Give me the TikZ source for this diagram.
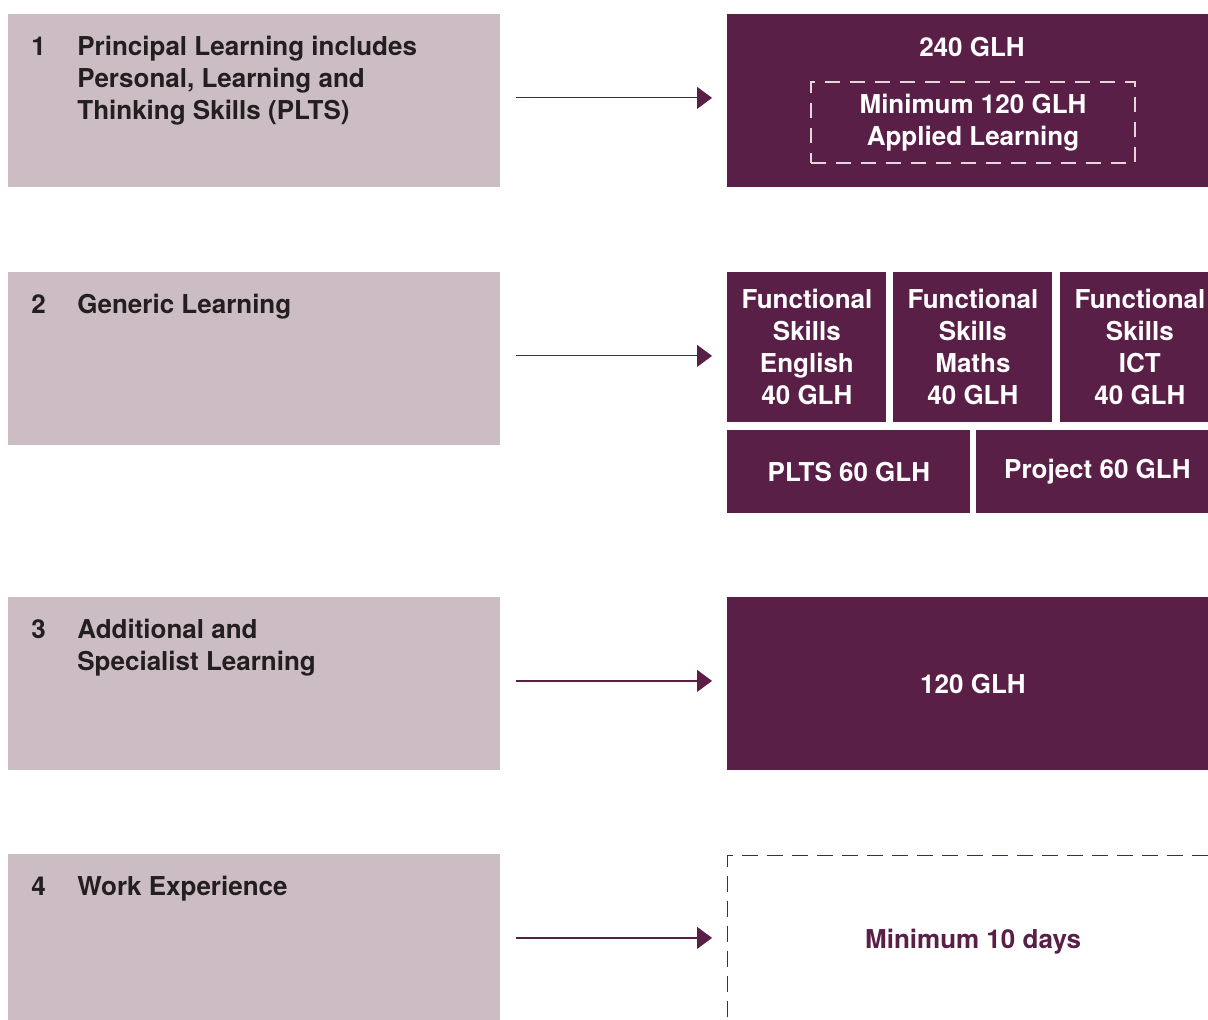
\documentclass[tikz,border=0pt]{standalone}
\usepackage{fontspec}
\setmainfont{TeX Gyre Heros}
\usetikzlibrary{positioning,arrows.meta}
\definecolor{plum}{HTML}{5A1F47}
\definecolor{mauve}{HTML}{CCBDC4}
\definecolor{ink}{HTML}{231F20}
\definecolor{pale}{HTML}{E2D6DC}
\tikzset{
  stagebox/.style={fill=mauve, draw=none, anchor=north west, inner sep=0pt,
    minimum width=246pt, minimum height=86.5pt},
  stagetext/.style={anchor=base west, inner sep=0pt, align=left, text=ink,
    font=\fontsize{13}{16}\selectfont\bfseries},
  hoursbox/.style={fill=plum, draw=none, anchor=north west, inner sep=0pt,
    align=center, text=white, font=\fontsize{13}{16}\selectfont\bfseries},
  fsbox/.style={minimum width=79.5pt, minimum height=75pt},
  dashframe/.style={draw=pale, line width=0.6pt, dash pattern=on 7.5pt off 5pt,
    inner sep=0pt, align=center, text=white, font=\fontsize{13}{16}\selectfont\bfseries},
  link/.style={draw=plum, line width=0.6pt, -{Triangle[length=7.5pt,width=11pt]},
    shorten <=7.5pt, shorten >=7.5pt}
}
\begin{document}
\begin{tikzpicture}[x=0.5pt,y=-0.5pt]
\clip (0,0) rectangle (1208,1020);
% left column: the four stages (base of a node = its last line)
\foreach \n/\top/\lines/\txt in {1/14/3/{Principal Learning includes\\Personal, Learning and\\Thinking Skills (PLTS)},
  2/272/1/{Generic Learning}, 3/597/2/{Additional and\\Specialist Learning}, 4/854/1/{Work Experience}} {
  \node[stagebox] (stage\n) at (8,\top) {};
  \node[stagetext] (num\n) at (31,\top+41.5) {\n};
  \node[stagetext] (txt\n) at (77,\top+41.5+32*\lines-32) {\txt};
}
% right column
\node[hoursbox, minimum width=245.5pt, minimum height=86.5pt] (hours1) at (727,14) {};
\node[hoursbox, fill=none, anchor=base] (glh240) at (972,57) {240 GLH};
\node[dashframe, minimum width=162pt, minimum height=40.5pt] (applied) at (973,122.5) {Minimum 120 GLH\\Applied Learning};
\node[hoursbox, fsbox] (fsenglish) at (727,272) {Functional\\Skills\\English\\40 GLH};
\node[hoursbox, fsbox] (fsmaths) at (893,272) {Functional\\Skills\\Maths\\40 GLH};
\node[hoursbox, fsbox] (fsict) at (1060,272) {Functional\\Skills\\ICT\\40 GLH};
\node[hoursbox, minimum width=121.5pt, minimum height=41.5pt] (plts) at (727,430) {PLTS 60 GLH};
\node[hoursbox, minimum width=121pt, minimum height=41.5pt] (project) at (976,430) {Project 60 GLH};
\node[hoursbox, minimum width=245.5pt, minimum height=86.5pt] (hours3) at (727,597) {120 GLH};
\node[hoursbox, fill=none, text=plum, draw=plum, line width=0.6pt, dash pattern=on 8pt off 4.5pt,
  minimum width=245.5pt, minimum height=86.5pt] (workdays) at (727,855) {Minimum 10 days};
% arrows
\draw[link] ([yshift=1.5pt]stage1.east) -- ([yshift=1.5pt]stage1.east -| hours1.west);
\draw[link] ([yshift=1.5pt]stage2.east) -- ([yshift=1.5pt]stage2.east -| fsenglish.west);
\draw[link] ([yshift=1.5pt]stage3.east) -- ([yshift=1.5pt]stage3.east -| hours3.west);
\draw[link] ([yshift=1.5pt]stage4.east) -- ([yshift=1.5pt]stage4.east -| workdays.west);
\end{tikzpicture}
\end{document}
